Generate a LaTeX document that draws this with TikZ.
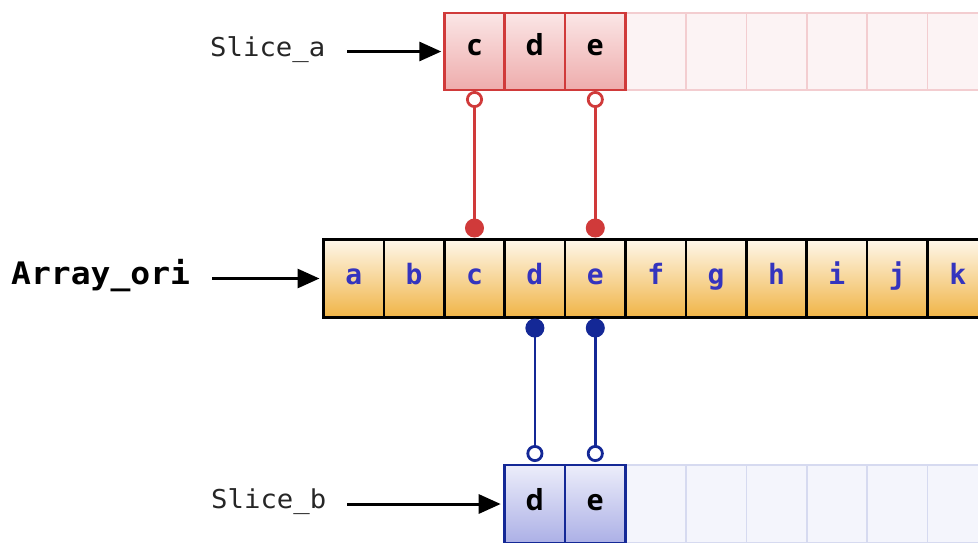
\documentclass[tikz,border=0pt]{standalone}
\usepackage{fontspec}
\setmainfont{DejaVu Sans}
\newfontfamily\monof[FakeStretch=1.05]{DejaVu Sans Mono}
\newfontfamily\monob[FakeStretch=1.065]{DejaVu Sans Mono Bold}
\newfontfamily\cellmono{DejaVu Sans Mono}
\newfontfamily\cellf{Open Sans}
\usetikzlibrary{arrows.meta}
\definecolor{redc}{RGB}{208,58,58}
\definecolor{bluec}{RGB}{20,40,150}
\definecolor{lettc}{RGB}{52,52,190}
\definecolor{orgtop}{RGB}{254,247,234}
\definecolor{orgbot}{RGB}{240,180,70}
\definecolor{pinktop}{RGB}{251,230,230}
\definecolor{pinkbot}{RGB}{238,172,172}
\definecolor{lavtop}{RGB}{236,237,250}
\definecolor{lavbot}{RGB}{172,176,230}
\definecolor{fpinkfill}{RGB}{252,243,244}
\definecolor{fpinkline}{RGB}{243,205,208}
\definecolor{fbluefill}{RGB}{244,245,252}
\definecolor{fblueline}{RGB}{214,218,240}
\tikzset{
  cellbox/.style={minimum width=60.4pt, minimum height=78pt, inner sep=0pt, outer sep=0pt},
  oricell/.style={cellbox, draw=black, line width=2.6pt, top color=orgtop, bottom color=orgbot,
     font=\cellmono\bfseries\fontsize{28}{28}\selectfont, text=lettc, text height=20pt, text depth=9pt},
  acell/.style={cellbox, minimum height=77pt, draw=redc, line width=2.6pt, top color=pinktop, bottom color=pinkbot,
     font=\cellf\bfseries\fontsize{29}{29}\selectfont, text=black, text height=20pt, text depth=12pt},
  afade/.style={cellbox, minimum height=77pt, draw=fpinkline, line width=1.6pt, fill=fpinkfill},
  bcell/.style={cellbox, draw=bluec, line width=2.6pt, top color=lavtop, bottom color=lavbot,
     font=\cellf\bfseries\fontsize{29}{29}\selectfont, text=black, text height=20pt, text depth=8pt},
  bfade/.style={cellbox, draw=fblueline, line width=1.6pt, fill=fbluefill},
  lbl/.style={inner sep=0pt, anchor=base west, font=\monof\fontsize{26}{26}\selectfont, text=black!85},
  ptr/.style={draw=black, line width=3pt, -{Triangle[length=22pt,width=19pt]}},
  redlink/.style={draw=redc, line width=2.8pt, {Circle[open,length=17pt,width=17pt]}-{Circle[length=19pt,width=19pt]}, shorten <=1pt, shorten >=2pt},
  bluelink/.style={draw=bluec, line width=2.8pt, {Circle[length=19pt,width=19pt]}-{Circle[open,length=17pt,width=17pt]}, shorten <=1pt, shorten >=3pt},
}
\begin{document}
\begin{tikzpicture}[x=1pt,y=-1pt]
\useasboundingbox (0,0) rectangle (978,542);
\clip (0,0) rectangle (978,542);
% faded cells top
\foreach \i in {5,...,10} {
  \node[afade] (af\i) at ({323.5+60.4*(\i+0.5)},51.5) {};
}
% faded cells bottom
\foreach \i in {5,...,10} {
  \node[bfade] (bf\i) at ({323.5+60.4*(\i+0.5)},504) {};
}
% original array
\foreach \l [count=\i from 0] in {a,b,c,d,e,f,g,h,i,j,k} {
  \node[oricell] (o\l) at ({323.5+60.4*(\i+0.5)},278.5) {\l};
}
% slice a
\foreach \l [count=\i from 2] in {c,d,e} {
  \node[acell] (a\l) at ({323.5+60.4*(\i+0.5)},51.5) {\l};
}
% slice b
\foreach \l [count=\i from 3] in {d,e} {
  \node[bcell] (b\l) at ({323.5+60.4*(\i+0.5)},504) {\l};
}
% labels
\node[lbl] (la) at (210,56) {Slice\_a};
\node[lbl, font=\monob\fontsize{31}{31}\selectfont, text=black] (lo) at (11,284) {Array\_ori};
\node[lbl] (lb) at (211,508) {Slice\_b};
\draw[ptr, shorten <=22pt, shorten >=3pt] (la.east |- ac.west) -- (ac.west);
\draw[ptr, shorten <=22pt, shorten >=4pt] (lo.east |- oa.west) -- (oa.west);
\draw[ptr, shorten <=21pt, shorten >=4pt] (lb.east |- bd.west) -- (bd.west);
% links
\draw[redlink] (ac.south) -- (oc.north);
\draw[redlink] (ae.south) -- (oe.north);
\draw[bluelink] (od.south) -- (bd.north);
\draw[bluelink] (oe.south) -- (be.north);
\end{tikzpicture}
\end{document}
